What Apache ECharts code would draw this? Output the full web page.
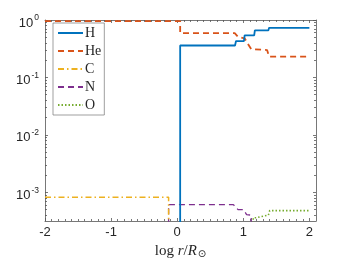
<!DOCTYPE html>
<html>
<head>
<meta charset="utf-8">
<script src="https://cdn.jsdelivr.net/npm/echarts@6/dist/echarts.min.js"></script>
<style>html,body{margin:0;padding:0;background:#fff;}#c{width:350px;height:262px;}</style>
</head>
<body>
<div id="c"></div>
<script>
// ---- data (x = log r/Rsun, y = mass fraction; 0 = absent) ----
const seriesNames = ['H', 'He', 'C', 'N', 'O'];
const H_x  = [0.045, 0.045, 0.875, 0.89, 1.01, 1.02, 1.165, 1.175, 1.38, 1.39, 2.0];
const H_y  = [0, 0.36, 0.36, 0.43, 0.43, 0.54, 0.54, 0.66, 0.66, 0.73, 0.73];
const He_x = [-2, 0.045, 0.045, 0.87, 0.92, 1.02, 1.06, 1.12, 1.36, 1.39, 2.0];
const He_y = [0.955, 0.955, 0.59, 0.59, 0.51, 0.48, 0.40, 0.31, 0.30, 0.23, 0.23];
const C_x  = [-2, -0.13, -0.13];
const C_y  = [8.2e-4, 8.2e-4, 0];
const N_x  = [-0.13, -0.13, 0.85, 0.92, 1.0, 1.05, 1.12, 1.15, 1.15];
const N_y  = [0, 6.1e-4, 6.1e-4, 5.0e-4, 5.0e-4, 4.1e-4, 4.0e-4, 4.0e-4, 0];
const O_x  = [1.15, 1.15, 1.19, 1.20, 1.28, 1.29, 1.38, 1.40, 2.0];
const O_y  = [0, 3.6e-4, 3.6e-4, 3.8e-4, 3.8e-4, 4.0e-4, 4.0e-4, 4.8e-4, 4.8e-4];
const xTicks = [-2, -1, 0, 1, 2];
const yTickExps = [-3, -2, -1, 0];

const colors = ['#0072BD', '#D95319', '#EDB120', '#7E2F8E', '#77AC30'];
const dashes = ['solid', [6, 4], [6, 3, 1.5, 3], [6, 4], [1.5, 2]];
const widths = [1.8, 1.8, 1.5, 1.3, 1.6];

function toPairs(xs, ys) {
  return xs.map((x, i) => [x, ys[i] > 0 ? Math.log10(ys[i]) : -10]);
}
const allX = [H_x, He_x, C_x, N_x, O_x];
const allY = [H_y, He_y, C_y, N_y, O_y];

const Y_MIN = -3.5, Y_MAX = 0;
const yMinor = [];
for (let n = -4; n < 0; n++) for (let k = 2; k <= 9; k++) {
  const v = Math.log10(k) + n;
  if (v > Y_MIN && v < Y_MAX) yMinor.push(v);
}

const axisCol = '#262626';
const lineSty = { color: '#555', width: 0.8 };

function yAx(pos, major, labels) {
  return {
    type: 'value', position: pos, min: Y_MIN, max: Y_MAX,
    splitLine: { show: false },
    axisLine: { show: major, onZero: false, lineStyle: lineSty },
    axisTick: { show: true, inside: true, length: major ? 3 : 2, lineStyle: lineSty,
      customValues: major ? yTickExps : yMinor },
    axisLabel: labels ? {
      show: true, customValues: yTickExps, margin: 6,
      formatter: v => '{b|10}{s|' + Math.round(v) + '}',
      rich: {
        b: { fontSize: 13, lineHeight: 13, fontFamily: 'Liberation Sans', color: axisCol, padding: [6, 0, 0, 0] },
        s: { fontSize: 8.5, lineHeight: 9, fontFamily: 'Liberation Sans', color: axisCol, padding: [3, 0, 7, 1] }
      }
    } : { show: false }
  };
}
function xAx(pos, labels) {
  return {
    type: 'value', position: pos, min: -2, max: 2.1, interval: 1,
    splitLine: { show: false },
    axisLine: { show: true, onZero: false, lineStyle: lineSty },
    axisTick: { show: true, inside: true, length: 3, lineStyle: lineSty, customValues: xTicks },
    minorTick: { show: true, splitNumber: 10, length: 2, lineStyle: lineSty },
    axisLabel: labels ? { show: true, customValues: xTicks, margin: 5, fontSize: 13,
      fontFamily: 'Liberation Sans', color: axisCol } : { show: false },
    name: labels ? '{a|log }{b|r}{a|/}{b|R}{c|⊙}' : '',
    nameLocation: 'middle', nameGap: 19,
    nameTextStyle: {
      rich: {
        a: { fontSize: 15, fontFamily: 'Liberation Serif', color: axisCol },
        b: { fontSize: 15, fontFamily: 'Liberation Serif', fontStyle: 'italic', color: axisCol },
        c: { fontSize: 10, fontFamily: 'DejaVu Sans', color: axisCol, padding: [7, 0, 0, 1] }
      }
    }
  };
}

const chart = echarts.init(document.getElementById('c'), null, { renderer: 'canvas' });
chart.setOption({
  backgroundColor: '#fff',
  animation: false,
  grid: { left: 45, right: 34, top: 20, bottom: 41, containLabel: false, outerBoundsMode: 'none' },
  xAxis: [xAx('bottom', true), xAx('top', false)],
  yAxis: [yAx('left', true, true), yAx('left', false, false), yAx('right', true, false), yAx('right', false, false)],
  legend: {
    left: 53, top: 23, orient: 'vertical',
    itemWidth: 25, itemHeight: 14, itemGap: 4,
    padding: [3, 3, 3, 4],
    borderColor: '#777', borderWidth: 0.7, backgroundColor: '#fff',
    itemStyle: { color: 'rgba(0,0,0,0)', borderColor: 'rgba(0,0,0,0)', borderWidth: 0 },
    textStyle: { fontSize: 14, fontFamily: 'Liberation Serif', color: axisCol, padding: [0, 0, 0, -3] },
    data: seriesNames
  },
  series: seriesNames.map((nm, i) => ({
    name: nm, type: 'line', xAxisIndex: 0, yAxisIndex: 0,
    data: toPairs(allX[i], allY[i]),
    symbol: 'none', symbolSize: 0, clip: true,
    lineStyle: { color: colors[i], width: widths[i], type: dashes[i] },
    itemStyle: { color: colors[i] },
    z: 5 - i
  }))
});
</script>
</body>
</html>
